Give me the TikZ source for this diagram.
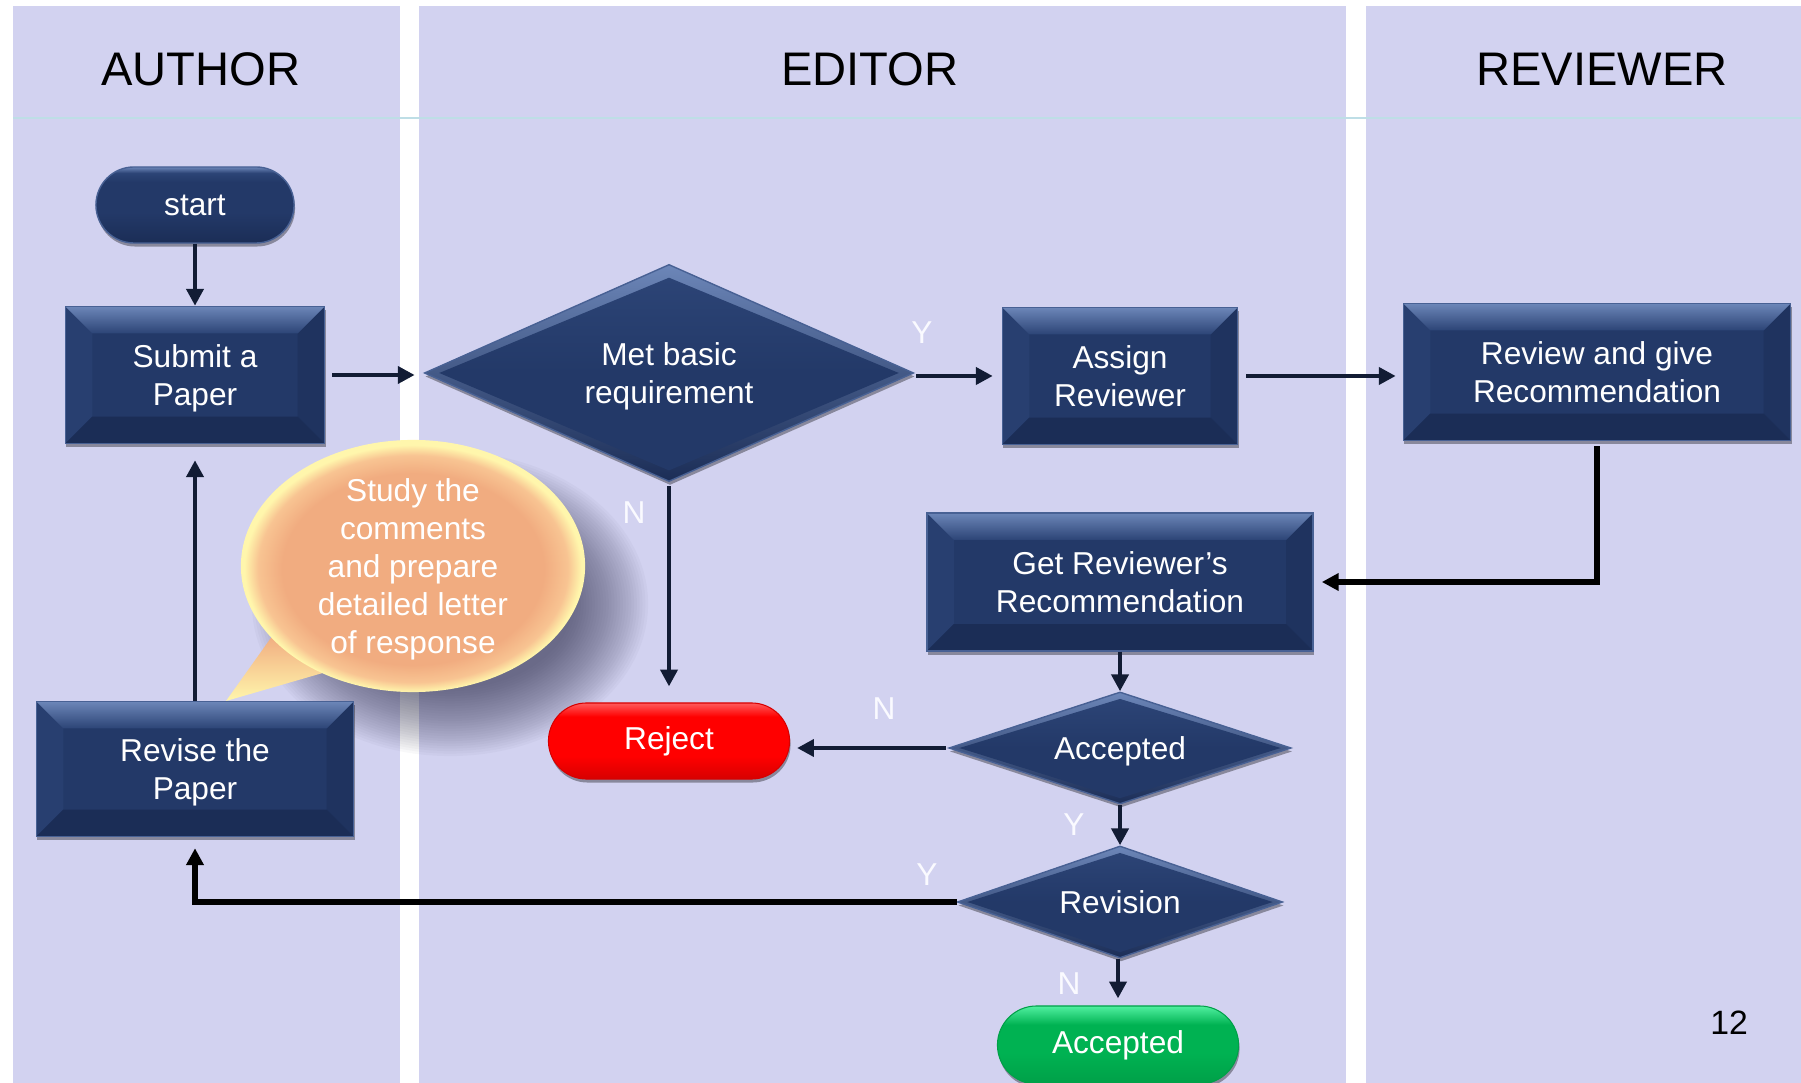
\documentclass[tikz,border=0pt]{standalone}
\usepackage{fontspec}
\setmainfont{Liberation Sans}
\usetikzlibrary{shapes.geometric,shapes.misc,arrows.meta,calc,shadows}

\definecolor{lanecol}{RGB}{210,210,240}
\definecolor{hdrline}{RGB}{190,222,230}
\definecolor{navy}{RGB}{35,57,104}
\definecolor{navytop}{RGB}{108,134,184}
\definecolor{navymid}{RGB}{44,68,118}
\definecolor{navyleft}{RGB}{40,63,112}
\definecolor{navyright}{RGB}{31,51,95}
\definecolor{navybot}{RGB}{27,45,86}
\definecolor{navyedge}{RGB}{72,97,148}
\definecolor{arrowcol}{RGB}{18,28,52}
\definecolor{peach}{RGB}{241,172,128}
\definecolor{peachlight}{RGB}{248,196,146}
\definecolor{bubbleyellow}{RGB}{255,246,172}
\definecolor{labelcol}{RGB}{250,250,255}
\definecolor{redtop}{RGB}{255,90,90}
\definecolor{reddark}{RGB}{215,0,0}
\definecolor{greentop}{RGB}{80,240,160}
\definecolor{greenmid}{RGB}{0,178,82}
\definecolor{greendark}{RGB}{0,160,72}
\definecolor{shadowcol}{RGB}{50,50,80}

% shadings: the middle 50bp square maps onto the path's bounding box
\pgfdeclareradialshading{bubbleshade}{\pgfpoint{0bp}{-1bp}}{color(0bp)=(peach); color(19bp)=(peach); color(22.5bp)=(peachlight); color(24.5bp)=(bubbleyellow); color(50bp)=(bubbleyellow)}
\pgfdeclareverticalshading{pillnavy}{100bp}{color(0bp)=(navybot); color(25bp)=(navybot); color(45bp)=(navy); color(65bp)=(navy); color(71bp)=(navymid); color(75bp)=(navytop); color(100bp)=(navytop)}
\pgfdeclareverticalshading{pillred}{100bp}{color(0bp)=(reddark); color(25bp)=(reddark); color(40bp)=(red); color(66bp)=(red); color(75bp)=(redtop); color(100bp)=(redtop)}
\pgfdeclareverticalshading{pillgreen}{100bp}{color(0bp)=(greendark); color(25bp)=(greendark); color(45bp)=(greenmid); color(63bp)=(greenmid); color(75bp)=(greentop); color(100bp)=(greentop)}

\newcommand\boxfont{\fontsize{9}{10.8}\selectfont}
\newcommand\titlefont{\fontsize{13.4}{16}\selectfont}

\tikzset{
  lane/.style={fill=lanecol, draw=none},
  boxshadow/.style={drop shadow={shadow xshift=0.01cm, shadow yshift=-0.035cm, opacity=0.35, fill=black}},
  bevelbox/.style={rectangle, inner sep=0pt, fill=navy, draw=navyedge, line width=0.4pt,
    text=white, align=center, font=\boxfont, text depth=0pt, boxshadow,
    path picture={
      \path (path picture bounding box.north west) coordinate (bnw)
            (path picture bounding box.north east) coordinate (bne)
            (path picture bounding box.south west) coordinate (bsw)
            (path picture bounding box.south east) coordinate (bse);
      \path ($(bnw)+(0.27cm,-0.27cm)$) coordinate (inw)
            ($(bne)+(-0.27cm,-0.27cm)$) coordinate (ine)
            ($(bsw)+(0.27cm,0.27cm)$) coordinate (isw)
            ($(bse)+(-0.27cm,0.27cm)$) coordinate (ise);
      \fill[navyleft] (bnw) -- (inw) -- (isw) -- (bsw) -- cycle;
      \fill[navyright] (bne) -- (ine) -- (ise) -- (bse) -- cycle;
      \fill[navybot] (bsw) -- (isw) -- (ise) -- (bse) -- cycle;
      \shade[top color=navytop, bottom color=navymid] (bnw) -- (bne) -- (ine) -- (inw) -- cycle;
    }},
  decision/.style={diamond, inner sep=0pt, fill=navy, draw=navyedge, line width=0.4pt,
    text=white, align=center, font=\boxfont, text depth=0pt, boxshadow,
    path picture={
      \path (path picture bounding box.center) coordinate (dc)
            (path picture bounding box.north) coordinate (dn)
            (path picture bounding box.south) coordinate (ds)
            (path picture bounding box.east) coordinate (de)
            (path picture bounding box.west) coordinate (dw);
      \shade[top color=navytop, bottom color=navybot] (path picture bounding box.north west) rectangle (path picture bounding box.south east);
      \shade[top color=navymid, bottom color=navy] ($(dc)!0.94!(dw)$) -- ($(dc)!0.88!(dn)$) -- ($(dc)!0.94!(de)$) -- cycle;
      \fill[navy] ($(dc)!0.94!(dw)$) -- ($(dc)!0.9!(ds)$) -- ($(dc)!0.94!(de)$) -- cycle;
    }},
  pill/.style={rounded rectangle, inner sep=0pt, text=white, font=\boxfont, boxshadow},
  arr/.style={draw=arrowcol, line width=1.3pt, -{Triangle[length=4.8pt,width=4.8pt]}},
  arrk/.style={draw=black, line width=1.5pt, -{Triangle[length=4.8pt,width=4.8pt]}},
  yn/.style={text=labelcol, font=\boxfont, inner sep=0pt},
  title/.style={text=black, font=\titlefont, inner sep=0pt},
}

\begin{document}
\begin{tikzpicture}[x=0.01cm, y=-0.01cm]
\useasboundingbox (0,0) rectangle (1801,1083);
\fill[white] (0,0) rectangle (1801,1083);

% lanes
\fill[lane] (13,6) rectangle (400,1083);
\fill[lane] (419,6) rectangle (1346,1083);
\fill[lane] (1366,6) rectangle (1801,1083);
\draw[hdrline, line width=0.6pt] (13,118) -- (1801,118);

% titles
\node[title] (tauthor) at (201,69) {AUTHOR};
\node[title] (teditor) at (870,69) {EDITOR};
\node[title] (treviewer) at (1602,69) {REVIEWER};

% speech bubble: soft shadow, tail, body
\foreach \i in {0,...,27}{
  \fill[shadowcol, opacity=0.03] (450,604) ellipse ({1.98cm-\i*0.028cm} and {1.52cm-\i*0.025cm});
}
\shade[shading angle=30, top color=peach, bottom color=bubbleyellow] (273,635) -- (226,701) -- (333,670) -- cycle;
\shade[shading=bubbleshade] (413,566) ellipse (1.72cm and 1.26cm);
\node[text=white, font=\boxfont, align=center, inner sep=0pt] (bubble) at (413,569)
  {Study the\\comments\\and prepare\\detailed letter\\of response};

% nodes
\node[pill, shading=pillnavy, draw=navyedge, line width=0.4pt, minimum width=1.98cm, minimum height=0.76cm] (start) at (195,205) {start};
\node[bevelbox, minimum width=2.59cm, minimum height=1.37cm] (submit) at (195,375) {Submit a\\Paper};
\node[decision, aspect=2.25, minimum width=4.89cm, minimum height=2.17cm] (met) at (669,373) {Met basic\\requirement};
\node[bevelbox, minimum width=2.35cm, minimum height=1.37cm] (assign) at (1120,376) {Assign\\Reviewer};
\node[bevelbox, minimum width=3.87cm, minimum height=1.37cm] (review) at (1597,372) {Review and give\\Recommendation};
\node[bevelbox, minimum width=3.86cm, minimum height=1.38cm] (get) at (1120,582) {Get Reviewer’s\\Recommendation};
\node[decision, aspect=3, minimum width=3.42cm, minimum height=1.12cm] (acc) at (1120,748) {Accepted};
\node[decision, aspect=2.9, minimum width=3.25cm, minimum height=1.12cm] (rev) at (1120,902) {Revision};
\node[pill, shading=pillred, draw=reddark, line width=0.3pt, minimum width=2.41cm, minimum height=0.76cm] (reject) at (669,741) {Reject};
\node[pill, shading=pillgreen, draw=greendark, line width=0.3pt, minimum width=2.41cm, minimum height=0.78cm] (ok) at (1118,1045) {Accepted};
\node[bevelbox, minimum width=3.17cm, minimum height=1.35cm] (revise) at (195,769) {Revise the\\Paper};

% connectors
\draw[arr] (start.south) -- (submit.north);
\draw[arr, shorten <=0.07cm, shorten >=0.09cm] (submit.east) -- (submit.east -| met.west);
\draw[arr, shorten <=0.02cm, shorten >=0.09cm] (met.east |- assign.west) -- (assign.west);
\draw[arr, shorten <=0.08cm, shorten >=0.07cm] (assign.east) -- (assign.east -| review.west);
\draw[arrk, shorten <=0.05cm, shorten >=0.08cm] (review.south) |- (get.east);
\draw[arr] (get.south -| acc.north) -- (acc.north);
\draw[arr, shorten <=0.02cm, shorten >=0.07cm] (acc.west) -- (acc.west -| reject.east);
\draw[arr, shorten <=0.04cm, shorten >=0.16cm] (met.south) -- (reject.north);
\draw[arr] (acc.south) -- (rev.north);
\draw[arr, shorten >=0.07cm] (rev.south -| ok.north) -- (ok.north);
\draw[arrk, shorten >=0.11cm] (rev.west) -| (revise.south);
\draw[arr, shorten >=0.16cm] (revise.north) -- (submit.south);

% labels
\node[yn] (ly1) at (922,333) {Y};
\node[yn] (ln1) at (634,513) {N};
\node[yn] (ln2) at (884,709) {N};
\node[yn] (ly2) at (1074,825) {Y};
\node[yn] (ly3) at (927,875) {Y};
\node[yn] (ln3) at (1069,984) {N};

\node[text=black, font=\fontsize{9.6}{11}\selectfont, inner sep=0pt] (pnum) at (1729,1023) {12};
\end{tikzpicture}
\end{document}
